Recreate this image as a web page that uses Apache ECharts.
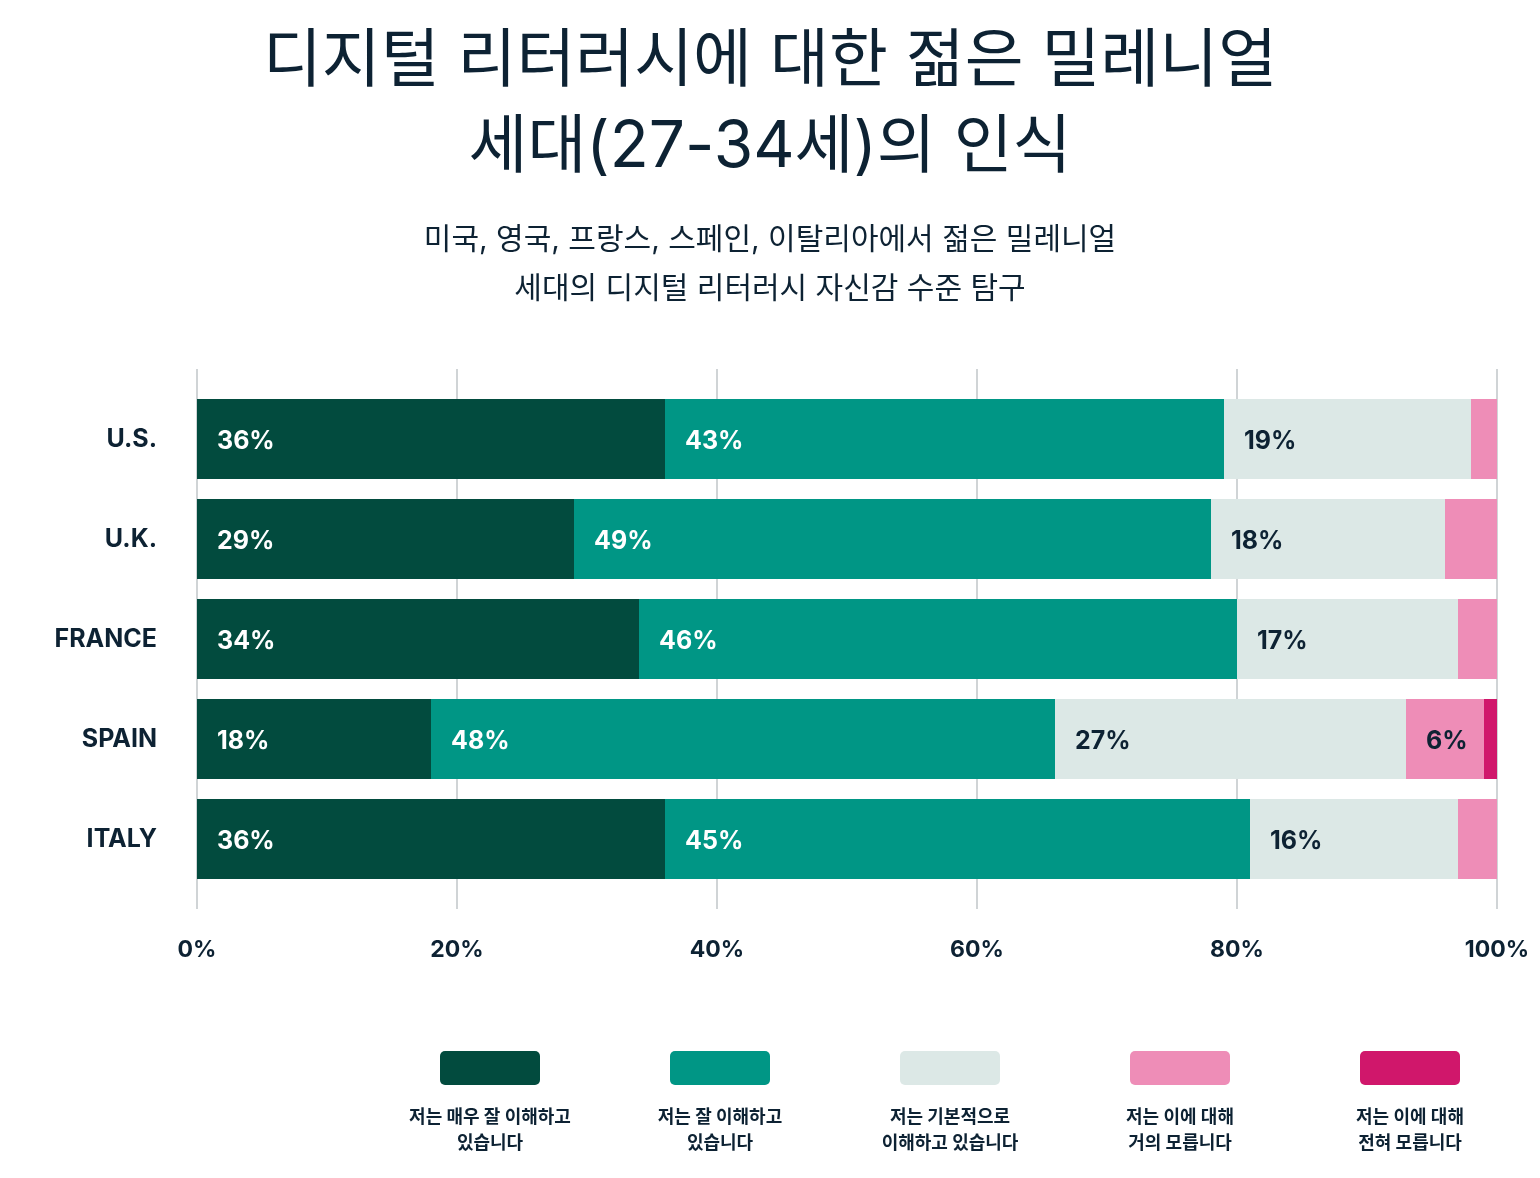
<!DOCTYPE html>
<html><head><meta charset="utf-8">
<script src="https://cdn.jsdelivr.net/npm/echarts@6/dist/echarts.min.js"></script>
<style>body{margin:0;background:#fff}#c{width:1540px;height:1178px}</style>
</head><body><div id="c"></div>
<script>
const countries = ['U.S.','U.K.','FRANCE','SPAIN','ITALY'];
const seriesNames = ['저는 매우 잘 이해하고\n있습니다','저는 잘 이해하고\n있습니다','저는 기본적으로\n이해하고 있습니다','저는 이에 대해\n거의 모릅니다','저는 이에 대해\n전혀 모릅니다'];
const veryWell = [36,29,34,18,36];
const well = [43,49,46,48,45];
const basic = [19,18,17,27,16];
const little = [2,4,3,6,3];
const none = [0,0,0,1,0];
const xTicks = [0,20,40,60,80,100];
const colors = ['#024b3e','#009685','#dce8e6','#ee8db7','#d0176b'];
const labelColors = ['#fff','#fff','#0d2233','#0d2233','#0d2233'];
const values = [veryWell, well, basic, little, none];
const font = 'Inter, "Noto Sans CJK KR", sans-serif';

const series = values.map((d,i)=>({
  type:'bar', name:seriesNames[i], stack:'a', data:d, barWidth:80,
  xAxisIndex:0, yAxisIndex:0,
  itemStyle:{color:colors[i]},
  label:{show:true, position:'insideLeft', distance:20, offset:[0,2],
    formatter:p=>p.value>=5? p.value+'%':'',
    color:labelColors[i], fontSize:25, fontWeight:'bold', fontFamily:font}
}));

const legendGraphics = [];
const lx = [490,720,950,1180,1410];
seriesNames.forEach((n,i)=>{
  legendGraphics.push({type:'rect', shape:{x:lx[i]-50,y:1051,width:100,height:34,r:5}, style:{fill:colors[i]}});
  legendGraphics.push({type:'text', x:lx[i], y:1105, style:{text:n, align:'center', verticalAlign:'top', fontSize:18, fontWeight:'bold', lineHeight:26, fill:'#0d2233', fontFamily:font}});
});

const chart = echarts.init(document.getElementById('c'));
chart.setOption({
  animation:false,
  title:[
    {text:'디지털 리터러시에 대한 젊은 밀레니얼\n세대(27-34세)의 인식', left:'center', top:14,
     textStyle:{fontSize:64, fontWeight:'normal', lineHeight:86, color:'#0d2233', fontFamily:font}},
    {text:'미국, 영국, 프랑스, 스페인, 이탈리아에서 젊은 밀레니얼\n세대의 디지털 리터러시 자신감 수준 탐구', left:'center', top:210,
     textStyle:{fontSize:30, fontWeight:'normal', lineHeight:49, color:'#0d2233', fontFamily:font}}
  ],
  grid:[
    {left:197,right:43,top:389,bottom:289},
    {left:197,right:43,top:369,bottom:269}
  ],
  xAxis:[
    {gridIndex:0,type:'value',min:0,max:100,show:false},
    {gridIndex:1,type:'value',min:0,max:100,interval:20,
     axisLine:{show:false},axisTick:{show:false},
     splitLine:{show:true,lineStyle:{color:'#d0d4d6',width:2}},
     axisLabel:{formatter:v=>v+'%',fontSize:23,fontWeight:'bold',color:'#0d2233',margin:30,fontFamily:font}}
  ],
  yAxis:[
    {gridIndex:0,type:'category',data:countries,inverse:true,
     axisLine:{show:false},axisTick:{show:false},
     axisLabel:{fontSize:25,fontWeight:'bold',color:'#0d2233',margin:40,offset:[0,2],fontFamily:font}},
    {gridIndex:1,type:'value',show:false}
  ],
  series: series,
  graphic: legendGraphics
});
</script></body></html>
